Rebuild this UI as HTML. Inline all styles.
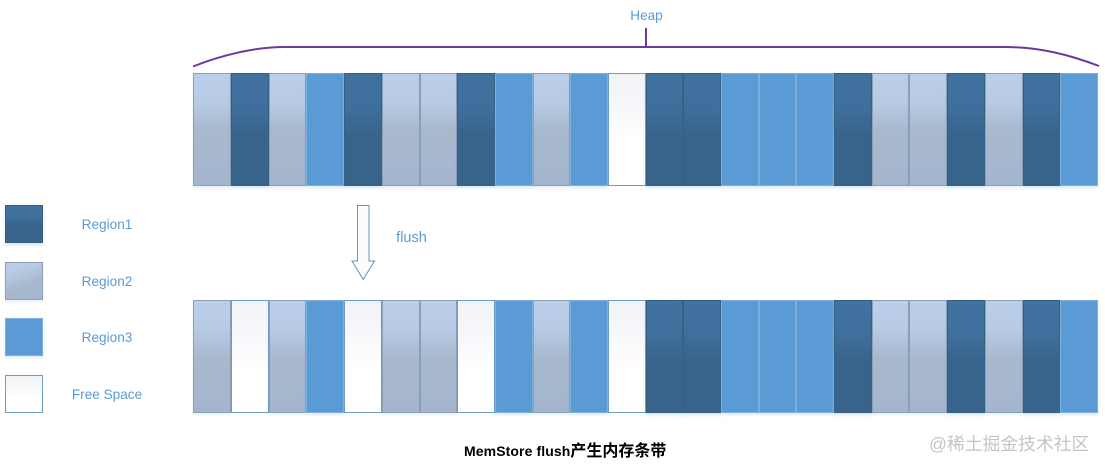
<!DOCTYPE html>
<html>
<head>
<meta charset="utf-8">
<style>
html,body{margin:0;padding:0;background:#fff;}
body{width:1105px;height:470px;position:relative;overflow:hidden;font-family:"Liberation Sans","Noto Sans CJK SC",sans-serif;}
.row{position:absolute;left:193.4px;display:flex;height:113px;width:905px;}
.row i{display:block;width:37.7px;height:100%;box-sizing:border-box;flex:none;}
.a{background:linear-gradient(#41719f 0,#3f6f9c 30%,#38648b 55%,#38648b 100%);border:1px solid #36607f;box-shadow:0 2px 3px rgba(90,150,210,.25);}
.b{background:linear-gradient(#bacfea 0,#b8cbe5 25%,#a8b8cd 52%,#a4b6ce 100%);border:1px solid #8d9fb5;box-shadow:0 2px 3px rgba(90,150,210,.15);}
.c{background:#5b9bd5;border:1px solid #7fb0dc;box-shadow:0 2px 3px rgba(90,150,210,.2);}
.f{background:linear-gradient(#f1f3f7 0,#f6f7fa 30%,#fff 60%);border:1px solid #6f9cc6;}
.lg{position:absolute;left:5px;width:38px;height:38px;box-sizing:border-box;}
.t{position:absolute;color:#5b9bd5;font-size:13.6px;line-height:16px;white-space:nowrap;transform:translateX(-50%);}
svg{position:absolute;left:0;top:0;}
</style>
</head>
<body>
<svg width="1105" height="470">
<path d="M193 66.5 C222 55 255 47 285 47 L1005 47 C1040 47 1070 55 1099 66" fill="none" stroke="#6f389b" stroke-width="2"/>
<path d="M646 28 V47" fill="none" stroke="#6f389b" stroke-width="2"/>
<path d="M357.5 205.5 H369 V261 H374.5 L363.2 279.5 L352 261 H357.5 Z" fill="#fbfcfd" stroke="#6a93b8" stroke-width="1"/>
</svg>

<div class="t" style="left:646.5px;top:8px;">Heap</div>

<div class="row" style="top:73px;">
<i class="b"></i><i class="a"></i><i class="b"></i><i class="c"></i><i class="a"></i><i class="b"></i><i class="b"></i><i class="a"></i><i class="c"></i><i class="b"></i><i class="c"></i><i class="f"></i><i class="a"></i><i class="a"></i><i class="c"></i><i class="c"></i><i class="c"></i><i class="a"></i><i class="b"></i><i class="b"></i><i class="a"></i><i class="b"></i><i class="a"></i><i class="c"></i>
</div>

<div class="row" style="top:300px;">
<i class="b"></i><i class="f"></i><i class="b"></i><i class="c"></i><i class="f"></i><i class="b"></i><i class="b"></i><i class="f"></i><i class="c"></i><i class="b"></i><i class="c"></i><i class="f"></i><i class="a"></i><i class="a"></i><i class="c"></i><i class="c"></i><i class="c"></i><i class="a"></i><i class="b"></i><i class="b"></i><i class="a"></i><i class="b"></i><i class="a"></i><i class="c"></i>
</div>

<div class="lg a" style="top:205px;"></div>
<div class="lg b" style="top:261.5px;background:linear-gradient(160deg,#bacfea 0,#b8cbe5 25%,#a8b8cd 60%,#a4b6ce 100%);"></div>
<div class="lg c" style="top:318px;"></div>
<div class="lg f" style="top:374.5px;"></div>

<div class="t" style="left:107px;top:217px;">Region1</div>
<div class="t" style="left:107px;top:274px;">Region2</div>
<div class="t" style="left:107px;top:330px;">Region3</div>
<div class="t" style="left:107px;top:387px;">Free Space</div>
<div class="t" style="left:411.5px;top:230px;font-size:14.5px;">flush</div>

<div style="position:absolute;left:464px;top:443px;font-size:14px;line-height:17px;font-weight:bold;color:#000;white-space:nowrap;letter-spacing:.1px;"><span>MemStore flush</span><span style="font-size:16px;letter-spacing:0;">产生内存条带</span></div>
<div style="position:absolute;left:929px;top:433px;font-size:17.8px;line-height:22px;color:#c4c4c4;white-space:nowrap;">@稀土掘金技术社区</div>
</body>
</html>
